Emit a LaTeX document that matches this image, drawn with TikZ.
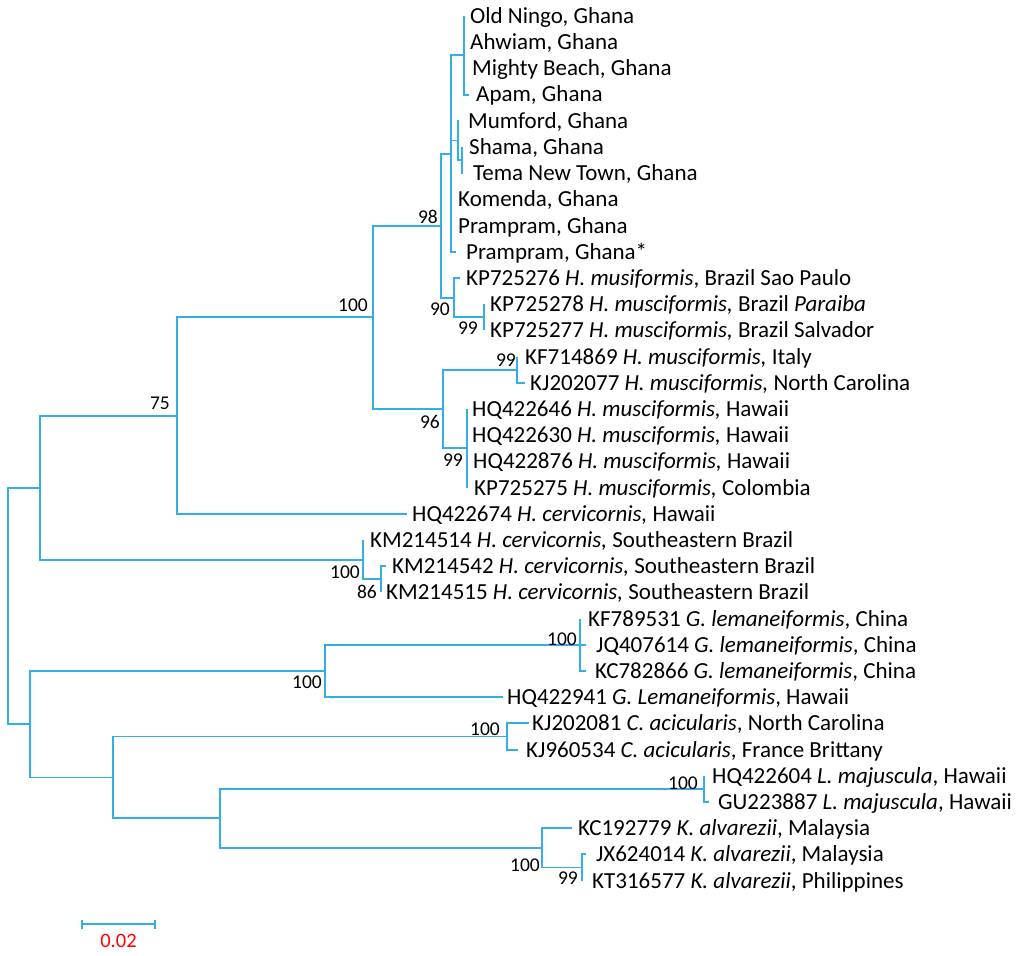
\documentclass[tikz,border=0pt]{standalone}
\usepackage{fontspec}
\setmainfont{Carlito}
\definecolor{treeblue}{RGB}{52,174,228}
\definecolor{scalered}{RGB}{255,0,0}
\newcommand{\lf}[5]{\coordinate (#1) at (#2,#4); \node[leaf] (#1-l) at (#3,#4) {#5};}
\newcommand{\bs}[4]{\node[supp] (#1) at (#2,#3) {#4};}
\begin{document}
\begin{tikzpicture}[x=1pt,y=-1pt,
  br/.style={draw=treeblue,line width=1.9pt,line join=miter},
  leaf/.style={anchor=base west,inner sep=0pt,yshift=-7.4pt,font=\fontsize{23}{26}\selectfont},
  supp/.style={anchor=base east,inner sep=0pt,font=\fontsize{19.5}{21}\selectfont},
  scalelab/.style={inner sep=0pt,text=scalered,font=\fontsize{20.5}{22}\selectfont}]
\useasboundingbox (0,0) rectangle (1024,955);
% leaves
\lf{on}{464}{470}{16}{Old Ningo, Ghana}
\lf{ah}{464}{470}{42.2}{Ahwiam, Ghana}
\lf{mb}{464}{472}{68.4}{Mighty Beach, Ghana}
\lf{ap}{469}{476}{94.6}{Apam, Ghana}
\lf{mu}{459}{468}{120.8}{Mumford, Ghana}
\lf{sh}{462}{469}{147}{Shama, Ghana}
\lf{te}{463}{473}{173.2}{Tema New Town, Ghana}
\lf{ko}{451}{458}{199.4}{Komenda, Ghana}
\lf{pr}{451}{458}{225.6}{Prampram, Ghana}
\lf{ps}{456}{466}{251.8}{Prampram, Ghana*}
\lf{kpa}{460}{466}{278}{KP725276 \textit{H. musiformis}, Brazil Sao Paulo}
\lf{kpb}{484}{490}{304.2}{KP725278 \textit{H. musciformis,} Brazil \textit{Paraiba}}
\lf{kpc}{484}{490}{330.4}{KP725277 \textit{H. musciformis,} Brazil Salvador}
\lf{kfa}{517}{525}{356.6}{KF714869 \textit{H. musciformis,} Italy}
\lf{kja}{525}{530}{382.8}{KJ202077 \textit{H. musciformis,} North Carolina}
\lf{hqa}{467}{472}{409}{HQ422646 \textit{H. musciformis,} Hawaii}
\lf{hqb}{467}{472}{435.2}{HQ422630 \textit{H. musciformis,} Hawaii}
\lf{hqc}{467}{473}{461.4}{HQ422876 \textit{H. musciformis,} Hawaii}
\lf{kpd}{467}{474}{487.6}{KP725275 \textit{H. musciformis,} Colombia}
\lf{hqd}{407}{412}{513.8}{HQ422674 \textit{H. cervicornis,} Hawaii}
\lf{kma}{363}{370}{540}{KM214514 \textit{H. cervicornis,} Southeastern Brazil}
\lf{kmb}{386}{392}{566.2}{KM214542 \textit{H. cervicornis,} Southeastern Brazil}
\lf{kmc}{381}{386}{592.4}{KM214515 \textit{H. cervicornis,} Southeastern Brazil}
\lf{kfb}{580}{588}{618.6}{KF789531 \textit{G. lemaneiformis}, China}
\lf{jqa}{586}{596}{644.8}{JQ407614 \textit{G. lemaneiformis}, China}
\lf{kca}{586}{595}{671}{KC782866 \textit{G. lemaneiformis}, China}
\lf{hqe}{503}{507}{697.2}{HQ422941 \textit{G. Lemaneiformis}, Hawaii}
\lf{kjb}{529}{532}{723.4}{KJ202081 \textit{C. acicularis}, North Carolina}
\lf{kjc}{518}{526}{749.6}{KJ960534 \textit{C. acicularis}, France Brittany}
\lf{hqf}{704}{712}{775.8}{HQ422604 \textit{L. majuscula}, Hawaii}
\lf{gua}{709}{718}{802}{GU223887 \textit{L. majuscula}, Hawaii}
\lf{kcb}{572}{578}{828.2}{KC192779 \textit{K. alvarezii}, Malaysia}
\lf{jxa}{586}{596}{854.4}{JX624014 \textit{K. alvarezii}, Malaysia}
\lf{kta}{582}{592}{880.6}{KT316577 \textit{K. alvarezii}, Philippines}
% internal nodes
\coordinate (nA) at (464,55.3);
\coordinate (nC) at (462,160.1);
\coordinate (nB) at (458,140.5);
\coordinate (nD) at (451,153.6);
\coordinate (nF) at (484,317.3);
\coordinate (nE) at (454,297.7);
\coordinate (nG) at (441,225.6);
\coordinate (nH) at (517,369.7);
\coordinate (nI) at (467,448.3);
\coordinate (nJ) at (443,409);
\coordinate (nK) at (373,317.3);
\coordinate (nL) at (177,415.6);
\coordinate (nN) at (381,579.3);
\coordinate (nM) at (363,559.7);
\coordinate (nO) at (40,487.6);
\coordinate (nP) at (580,644.8);
\coordinate (nQ) at (325,671);
\coordinate (nR) at (507,736.5);
\coordinate (nS) at (704,788.9);
\coordinate (nT) at (582,867.5);
\coordinate (nU) at (542,847.9);
\coordinate (nV) at (220,818.4);
\coordinate (nW) at (113,777.5);
\coordinate (nX) at (30,724.2);
\coordinate (root) at (8,605.9);
% branches
\foreach \p/\c in {nA/on,nA/ah,nA/mb,nA/ap,nC/sh,nC/te,nB/mu,nB/nC,
  nD/nA,nD/nB,nD/ko,nD/pr,nD/ps,nF/kpb,nF/kpc,nE/kpa,nE/nF,nG/nD,nG/nE,
  nH/kfa,nH/kja,nI/hqa,nI/hqb,nI/hqc,nI/kpd,nJ/nH,nJ/nI,nK/nG,nK/nJ,
  nL/nK,nL/hqd,nN/kmb,nN/kmc,nM/kma,nM/nN,nO/nL,nO/nM,
  nP/kfb,nP/jqa,nP/kca,nQ/nP,nQ/hqe,nR/kjb,nR/kjc,nS/hqf,nS/gua,
  nT/jxa,nT/kta,nU/kcb,nU/nT,nV/nS,nV/nU,nW/nR,nW/nV,nX/nQ,nX/nW,
  root/nO,root/nX}
  \draw[br] (\p) |- (\c);
% bootstrap values
\bs{bG}{438}{223}{98}
\bs{bK}{368}{311}{100}
\bs{bE}{450}{315}{90}
\bs{bF}{478}{334}{99}
\bs{bH}{516}{366}{99}
\bs{bJ}{440}{428}{96}
\bs{bI}{463}{466}{99}
\bs{bL}{170}{409}{75}
\bs{bM}{360}{578}{100}
\bs{bN}{377}{598}{86}
\bs{bP}{577}{645}{100}
\bs{bQ}{322}{688}{100}
\bs{bR}{500}{735}{100}
\bs{bS}{698}{789}{100}
\bs{bU}{540}{871}{100}
\bs{bT}{578}{884}{99}
% scale bar
\coordinate (sa) at (82,924);
\coordinate (sb) at (155,924);
\draw[br,line width=1.5pt] (sa) -- (sb);
\draw[br,line width=1.5pt] ([yshift=4.5pt]sa) -- ([yshift=-4.5pt]sa);
\draw[br,line width=1.5pt] ([yshift=4.5pt]sb) -- ([yshift=-4.5pt]sb);
\node[scalelab] (slab) at (118.5,941) {0.02};
\end{tikzpicture}
\end{document}
